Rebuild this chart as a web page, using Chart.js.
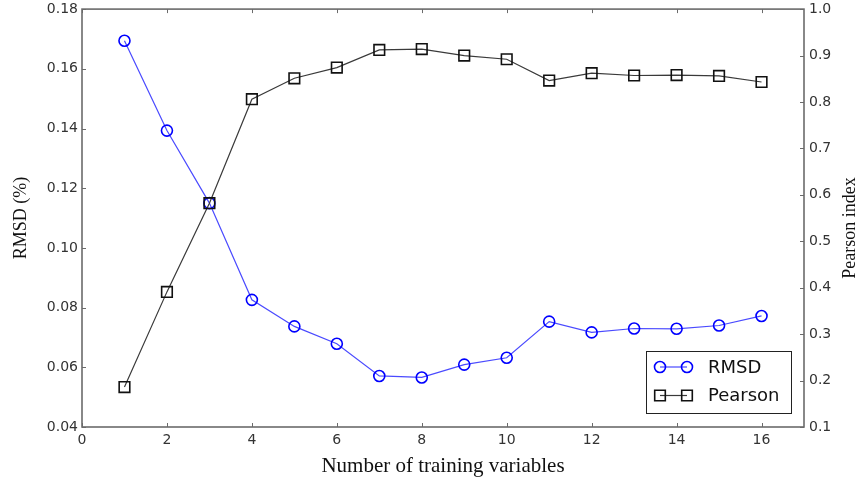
<!DOCTYPE html>
<html>
<head>
<meta charset="utf-8">
<script src="https://cdn.jsdelivr.net/npm/chart.js@4/dist/chart.umd.min.js"></script>
<style>
    html, body { margin: 0; padding: 0; background: #fff; }
    #wrap { width: 862px; height: 482px; position: relative; }
</style>
</head>
<body>
<div id="wrap"><canvas id="grafico"></canvas></div>
<script>
// Dados
const variaveis = [1, 2, 3, 4, 5, 6, 7, 8, 9, 10, 11, 12, 13, 14, 15, 16];
const rmsd = [0.1694, 0.1393, 0.1150, 0.0826, 0.0737, 0.0679, 0.0571, 0.0566,
              0.0609, 0.0632, 0.0753, 0.0717, 0.0730, 0.0729, 0.0740, 0.0772];
const pearson = [0.186, 0.391, 0.582, 0.806, 0.851, 0.874, 0.912, 0.914,
                 0.900, 0.892, 0.846, 0.862, 0.857, 0.858, 0.856, 0.843];

const corFrame = '#6b6b6b';
const fonteTicks = { family: 'DejaVu Sans', size: 14 };

// Moldura, marcas de escala para dentro, título da direita e legenda
const estiloMatplotlib = {
    id: 'estiloMatplotlib',
    afterDatasetsDraw(chart) {
        const ctx = chart.ctx;
        const a = chart.chartArea;
        const sx = chart.scales.x, sy = chart.scales.y, sy1 = chart.scales.y1;
        ctx.save();
        ctx.strokeStyle = corFrame;
        ctx.lineWidth = 1;
        ctx.beginPath();
        sx.ticks.forEach(t => {
            const px = Math.round(sx.getPixelForValue(t.value)) + 0.5;
            ctx.moveTo(px, a.bottom); ctx.lineTo(px, a.bottom - 4);
            ctx.moveTo(px, a.top); ctx.lineTo(px, a.top + 4);
        });
        sy.ticks.forEach(t => {
            const py = Math.round(sy.getPixelForValue(t.value)) + 0.5;
            ctx.moveTo(a.left, py); ctx.lineTo(a.left + 4, py);
        });
        sy1.ticks.forEach(t => {
            const py = Math.round(sy1.getPixelForValue(t.value)) + 0.5;
            ctx.moveTo(a.right, py); ctx.lineTo(a.right - 4, py);
        });
        ctx.stroke();

        ctx.lineWidth = 1.6;
        ctx.strokeRect(a.left, a.top, a.right - a.left, a.bottom - a.top);

        // título do eixo da direita, de baixo para cima
        ctx.translate(850, 228);
        ctx.rotate(-Math.PI / 2);
        ctx.fillStyle = '#111';
        ctx.font = '18px "Liberation Serif"';
        ctx.textAlign = 'center';
        ctx.textBaseline = 'middle';
        ctx.fillText('Pearson index', 0, 0);
        ctx.restore();

        desenharLegenda(chart);
    }
};

function desenharLegenda(chart) {
    const ctx = chart.ctx;
    const a = chart.chartArea;
    const caixa = { x: a.right - 158, y: a.bottom - 76, w: 145, h: 62 };
    const itens = [
        { texto: 'RMSD', ds: chart.data.datasets[1] },
        { texto: 'Pearson', ds: chart.data.datasets[0] }
    ];
    ctx.save();
    ctx.fillStyle = '#fff';
    ctx.fillRect(caixa.x, caixa.y, caixa.w, caixa.h);
    ctx.strokeStyle = '#222';
    ctx.lineWidth = 1;
    ctx.strokeRect(caixa.x + 0.5, caixa.y + 0.5, caixa.w, caixa.h);

    itens.forEach((item, i) => {
        const cy = caixa.y + 16 + i * 28.5;
        const x1 = caixa.x + 14, x2 = caixa.x + 41;
        ctx.strokeStyle = item.ds.borderColor;
        ctx.lineWidth = item.ds.borderWidth;
        ctx.beginPath();
        ctx.moveTo(x1, cy); ctx.lineTo(x2, cy);
        ctx.stroke();
        ctx.strokeStyle = item.ds.pointBorderColor;
        ctx.lineWidth = item.ds.pointBorderWidth;
        [x1, x2].forEach(px => {
            ctx.beginPath();
            if (item.ds.pointStyle === 'circle') {
                ctx.arc(px, cy, item.ds.pointRadius, 0, Math.PI * 2);
            } else {
                const s = item.ds.pointRadius * Math.SQRT1_2;
                ctx.rect(px - s, cy - s, 2 * s, 2 * s);
            }
            ctx.stroke();
        });
        ctx.fillStyle = '#111';
        ctx.font = '18px "DejaVu Sans"';
        ctx.textAlign = 'left';
        ctx.textBaseline = 'middle';
        ctx.fillText(item.texto, caixa.x + 62, cy + 1);
    });
    ctx.restore();
}

// Eixos verticais: largura fixa e sem folga extra em cima/em baixo
function fixarEixoY(largura) {
    return function(scale) {
        scale.width = largura;
        scale.paddingTop = 0;
        scale.paddingBottom = 0;
    };
}

function renderGrafico() {
    const ctx = document.getElementById('grafico').getContext('2d');
    new Chart(ctx, {
        type: 'line',
        data: {
            datasets: [{
                label: 'Pearson',
                data: variaveis.map((v, i) => ({ x: v, y: pearson[i] })),
                yAxisID: 'y1',
                borderColor: '#3a3a3a',
                borderWidth: 1.2,
                pointStyle: 'rect',
                pointRadius: 7.5,
                pointBorderColor: '#111',
                pointBorderWidth: 1.6,
                pointBackgroundColor: 'rgba(0,0,0,0)',
                tension: 0,
                order: 0
            }, {
                label: 'RMSD',
                data: variaveis.map((v, i) => ({ x: v, y: rmsd[i] })),
                yAxisID: 'y',
                borderColor: '#4a4aff',
                borderWidth: 1.2,
                pointStyle: 'circle',
                pointRadius: 5.5,
                pointBorderColor: '#0000ff',
                pointBorderWidth: 1.6,
                pointBackgroundColor: 'rgba(0,0,0,0)',
                tension: 0,
                order: 1
            }]
        },
        options: {
            responsive: true,
            maintainAspectRatio: false,
            animation: false,
            devicePixelRatio: 1,
            layout: { padding: { top: 7, left: 0, right: 0, bottom: 0 } },
            scales: {
                x: {
                    type: 'linear',
                    min: 0,
                    max: 17,
                    grid: { display: false, drawTicks: false },
                    border: { display: false },
                    ticks: { stepSize: 2, includeBounds: false, padding: 5, color: '#333', font: fonteTicks },
                    title: {
                        display: true,
                        text: 'Number of training variables',
                        color: '#111',
                        font: { family: 'Liberation Serif', size: 21 },
                        padding: { top: 0, bottom: 3 }
                    },
                    afterFit(scale) { scale.height = 55; }
                },
                y: {
                    position: 'left',
                    min: 0.04,
                    max: 0.18,
                    grid: { display: false, drawTicks: false },
                    border: { display: false },
                    ticks: {
                        stepSize: 0.02,
                        padding: 4,
                        color: '#333',
                        font: fonteTicks,
                        callback: v => v.toFixed(2)
                    },
                    title: {
                        display: true,
                        text: 'RMSD (%)',
                        color: '#111',
                        font: { family: 'Liberation Serif', size: 18 },
                        padding: { top: 10, bottom: 0 }
                    },
                    afterFit: fixarEixoY(82)
                },
                y1: {
                    position: 'right',
                    min: 0.1,
                    max: 1.0,
                    grid: { display: false, drawTicks: false },
                    border: { display: false },
                    ticks: {
                        stepSize: 0.1,
                        padding: 5,
                        color: '#333',
                        font: fonteTicks,
                        callback: v => v.toFixed(1)
                    },
                    afterFit: fixarEixoY(58)
                }
            },
            plugins: {
                legend: { display: false },
                tooltip: { enabled: false }
            }
        },
        plugins: [estiloMatplotlib]
    });
}

document.addEventListener('DOMContentLoaded', renderGrafico);
</script>
</body>
</html>
